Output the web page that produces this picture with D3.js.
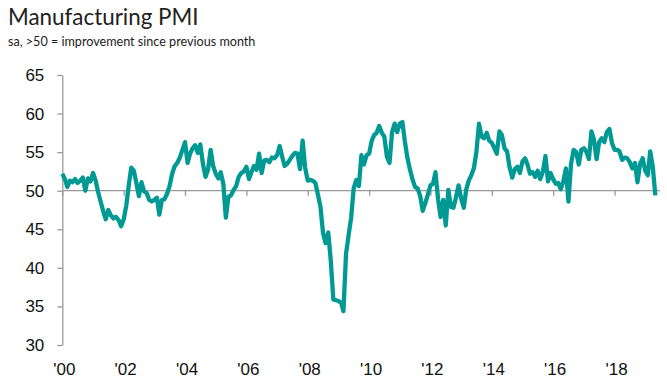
<!DOCTYPE html>
<html>
<head>
<meta charset="utf-8">
<script src="https://cdn.jsdelivr.net/npm/d3@7"></script>
<style>
  body { margin: 0; background: #fff; }
  svg { display: block; }
</style>
</head>
<body>
<svg id="chart" width="667" height="382"></svg>
<script>
// monthly values, Jan 2000 onwards
const pmi2000 = [52.2, 51.5, 50.5, 51.3, 51.1, 51.5, 51.0, 51.3, 51.7, 50.0, 51.6, 51.2];
const pmi2001 = [52.3, 51.3, 49.9, 48.6, 47.4, 46.3, 47.5, 46.8, 46.4, 46.6, 46.2, 45.4];
const pmi2002 = [46.3, 48.1, 50.6, 53.0, 52.6, 51.0, 49.3, 51.1, 49.9, 49.7, 48.8, 48.6];
const pmi2003 = [48.8, 49.1, 46.9, 48.8, 48.9, 49.6, 50.6, 52.2, 53.2, 53.6, 54.3, 55.3];
const pmi2004 = [56.3, 53.6, 54.8, 55.5, 55.9, 54.9, 56.0, 53.5, 51.8, 52.7, 55.3, 53.2];
const pmi2005 = [52.2, 51.6, 52.4, 50.9, 46.5, 49.2, 49.4, 50.1, 50.6, 51.8, 52.3, 52.5];
const pmi2006 = [53.1, 51.5, 52.4, 53.2, 52.7, 54.8, 52.3, 53.9, 54.0, 53.7, 54.3, 54.2];
const pmi2007 = [54.6, 55.8, 54.5, 53.2, 53.5, 54.0, 54.5, 54.9, 54.8, 52.8, 56.5, 53.0];
const pmi2008 = [51.3, 51.4, 51.3, 51.0, 49.5, 47.9, 44.5, 43.2, 44.6, 41.0, 35.9, 35.8];
const pmi2009 = [35.7, 35.5, 34.4, 41.8, 44.2, 46.5, 50.3, 51.4, 50.6, 54.6, 53.4, 54.6];
const pmi2010 = [54.8, 56.5, 57.2, 57.5, 58.4, 57.5, 57.0, 54.4, 53.6, 57.6, 58.7, 57.6];
const pmi2011 = [58.7, 58.9, 56.5, 54.3, 52.8, 51.5, 50.5, 50.3, 49.3, 47.4, 48.4, 49.5];
const pmi2012 = [50.7, 50.9, 52.4, 48.9, 46.6, 48.8, 45.5, 50.1, 47.9, 47.8, 49.2, 50.7];
const pmi2013 = [49.0, 47.8, 50.1, 51.3, 52.0, 52.9, 55.0, 58.7, 57.0, 56.8, 57.5, 56.5];
const pmi2014 = [56.2, 55.5, 54.8, 57.7, 57.2, 55.5, 55.1, 53.0, 51.7, 52.8, 53.1, 52.3];
const pmi2015 = [53.8, 54.2, 53.4, 52.2, 52.4, 51.8, 52.6, 51.5, 52.5, 54.5, 51.2, 52.3];
const pmi2016 = [51.5, 50.9, 51.0, 50.2, 51.2, 52.9, 48.6, 53.5, 55.3, 55.0, 53.4, 55.3];
const pmi2017 = [55.5, 55.0, 54.1, 57.7, 56.6, 54.1, 56.3, 56.8, 56.3, 57.6, 58.0, 56.2];
const pmi2018 = [55.3, 55.3, 55.1, 54.0, 54.3, 54.2, 53.7, 52.9, 53.6, 51.1, 53.5, 54.2];
const pmi2019 = [52.6, 52.0, 55.1, 53.1, 49.4];

const yTicks = [30, 35, 40, 45, 50, 55, 60, 65];
const xTickYears = [2000, 2002, 2004, 2006, 2008, 2010, 2012, 2014, 2016, 2018];
const xTickLabels = ["'00", "'02", "'04", "'06", "'08", "'10", "'12", "'14", "'16", "'18"];

const values = [].concat(pmi2000, pmi2001, pmi2002, pmi2003, pmi2004, pmi2005, pmi2006,
  pmi2007, pmi2008, pmi2009, pmi2010, pmi2011, pmi2012, pmi2013, pmi2014, pmi2015,
  pmi2016, pmi2017, pmi2018, pmi2019);
const data = values.map((v, i) => ({ date: new Date(2000, i, 1), value: v }));

const svg = d3.select("#chart");
const plotLeft = 62.3, plotRight = 655.3, plotTop = 75, plotBottom = 345;
const labelFont = "'Liberation Sans', Arial, sans-serif";

const xScale = d3.scaleTime()
  .domain([new Date(2000, 0, 1), new Date(2019, 4, 1)])
  .range([plotLeft, plotRight]);
const yScale = d3.scaleLinear().domain([30, 65]).range([plotBottom, plotTop]);

// title
svg.append("text").attr("x", 8).attr("y", 25)
  .style("font-family", "Lato, sans-serif").style("font-size", "22.4px").style("fill", "#222")
  .text("Manufacturing PMI");
svg.append("text").attr("x", 8).attr("y", 46)
  .style("font-family", "Lato, sans-serif").style("font-size", "12.6px").style("fill", "#222")
  .text("sa, >50 = improvement since previous month");

// y axis
const yAxis = d3.axisLeft(yScale).tickValues(yTicks).tickSize(5).tickSizeOuter(0).tickPadding(13);
const gy = svg.append("g").attr("transform", `translate(${plotLeft},0)`).call(yAxis);
gy.attr("font-family", labelFont).attr("font-size", 17);
gy.select(".domain").attr("stroke", "#999").attr("stroke-width", 1.3);
gy.selectAll(".tick line").attr("stroke", "#999").attr("stroke-width", 1.3);
gy.selectAll(".tick text").attr("fill", "#111");

// x axis sits on the 50 line
const xAxis = d3.axisBottom(xScale)
  .tickValues(xTickYears.map(y => new Date(y, 0, 1)))
  .tickFormat(() => "")
  .tickSize(5).tickSizeOuter(0);
const gx = svg.append("g").attr("transform", `translate(0,${yScale(50)})`).call(xAxis);
gx.select(".domain").attr("d", `M${plotLeft},0H660`).attr("stroke", "#999").attr("stroke-width", 1.3);
gx.selectAll(".tick line").attr("stroke", "#999").attr("stroke-width", 1.3);

// year labels along the bottom
svg.append("g").selectAll("text")
  .data(xTickYears)
  .enter()
  .append("text")
  .attr("x", d => xScale(new Date(d, 0, 1)) + 2)
  .attr("y", 375)
  .attr("text-anchor", "middle")
  .attr("font-family", labelFont).attr("font-size", 17).attr("fill", "#111")
  .text((d, i) => xTickLabels[i]);

// the series
const line = d3.line().x(d => xScale(d.date)).y(d => yScale(d.value));
svg.append("path")
  .datum(data)
  .attr("d", line)
  .attr("fill", "none")
  .attr("stroke", "#009994")
  .attr("stroke-width", 4.3)
  .attr("stroke-linejoin", "round");
</script>
</body>
</html>
